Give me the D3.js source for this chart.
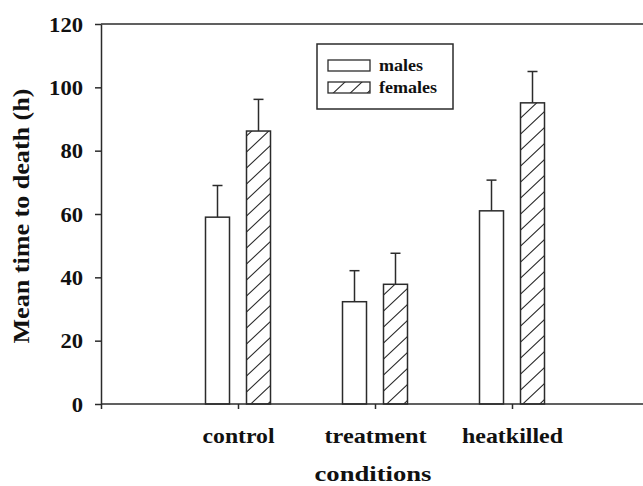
<!DOCTYPE html>
<html>
<head>
<meta charset="utf-8">
<script src="https://cdn.jsdelivr.net/npm/d3@7"></script>
<style>
  body { margin: 0; background: #fff; }
  svg { display: block; }
</style>
</head>
<body>
<svg id="chart" width="643" height="486"></svg>
<script>
const categories = ["control", "treatment", "heatkilled"]
const series = ["males", "females"]
const males = [59, 32.3, 61]
const malesErr = [10, 9.8, 9.7]
const females = [86.2, 37.8, 95.1]
const femalesErr = [10, 9.8, 9.9]
const yTicks = [0, 20, 40, 60, 80, 100, 120]

const margin = {top: 24, left: 101, bottom: 82}
const width = 643, height = 486
const ink = "#2b2b2b"

const serif = sel => sel
    .style("font-family", '"Liberation Serif"')
    .style("font-weight", "bold")
    .attr("fill", "#111")

const svg = d3.select("#chart")

// hatch: lines rising left to right, 16px apart vertically
const defs = svg.append("defs")
const pat = defs.append("pattern")
    .attr("id", "hatch")
    .attr("patternUnits", "userSpaceOnUse")
    .attr("width", 17).attr("height", 16)
pat.append("path")
    .attr("d", "M-8.5,8 L8.5,-8 M0,16 L17,0 M8.5,24 L25.5,8")
    .attr("stroke", ink).attr("stroke-width", 1.1)

// positions 0..4, categories sit at 1,2,3
const x = d3.scaleLinear().domain([0, 4]).range([margin.left, 649])
const y = d3.scaleLinear().domain([0, 120]).range([height - margin.bottom, margin.top])
const offset = d3.scaleOrdinal().domain(series).range([-20.5, 20.5])
const barW = 24

const data = categories.flatMap((c, i) => [
    {cat: c, pos: i + 1, s: "males", v: males[i], e: malesErr[i]},
    {cat: c, pos: i + 1, s: "females", v: females[i], e: femalesErr[i]}
])

// top frame line
svg.append("line")
    .attr("x1", x(0)).attr("x2", width)
    .attr("y1", y(120)).attr("y2", y(120))
    .attr("stroke", ink).attr("stroke-width", 1.5)

// error bars (drawn first so bars cover the base)
const eb = svg.append("g").attr("stroke", ink).attr("stroke-width", 1.5)
eb.selectAll("line.v").data(data).join("line")
    .attr("class", "v")
    .attr("x1", d => x(d.pos) + offset(d.s)).attr("x2", d => x(d.pos) + offset(d.s))
    .attr("y1", d => y(d.v)).attr("y2", d => y(d.v + d.e))
eb.selectAll("line.c").data(data).join("line")
    .attr("class", "c")
    .attr("x1", d => x(d.pos) + offset(d.s) - 5).attr("x2", d => x(d.pos) + offset(d.s) + 5)
    .attr("y1", d => y(d.v + d.e)).attr("y2", d => y(d.v + d.e))

svg.append("g").selectAll("rect").data(data).join("rect")
    .attr("x", d => x(d.pos) + offset(d.s) - barW / 2)
    .attr("width", barW)
    .attr("y", d => y(d.v))
    .attr("height", d => y(0) - y(d.v))
    .attr("fill", d => d.s === "females" ? "url(#hatch)" : "#fff")
    .attr("stroke", ink).attr("stroke-width", 1.5)

// y axis
svg.append("g")
    .attr("transform", `translate(${margin.left},0)`)
    .call(d3.axisLeft(y).tickValues(yTicks).tickSize(6).tickPadding(12).tickSizeOuter(0))
    .call(g => g.selectAll("path, line").attr("stroke", ink).attr("stroke-width", 1.5))
    .call(g => g.selectAll("text").call(serif).attr("font-size", 22)
        .attr("textLength", d => String(d).length * 11.3).attr("lengthAdjust", "spacingAndGlyphs"))

// x axis
svg.append("g")
    .attr("transform", `translate(0,${y(0)})`)
    .call(d3.axisBottom(x).tickValues([0, 1, 2, 3]).tickSize(5).tickSizeOuter(0)
        .tickFormat(d => d === 0 ? "" : categories[d - 1]).tickPadding(0))
    .call(g => g.select(".domain").attr("d", `M${x(0)},0H${width}`))
    .call(g => g.selectAll("path, line").attr("stroke", ink).attr("stroke-width", 1.5))
    .call(g => g.selectAll("text").call(serif).attr("font-size", 22).attr("dy", null).attr("y", 39)
        .attr("textLength", d => [0, 72, 102, 101][d]).attr("lengthAdjust", "spacingAndGlyphs"))

// axis titles
svg.append("text")
    .attr("transform", `translate(29,${(y(0) + y(120)) / 2 + 2}) rotate(-90)`)
    .attr("text-anchor", "middle")
    .attr("font-size", 23)
    .attr("textLength", 255).attr("lengthAdjust", "spacingAndGlyphs")
    .call(serif)
    .text("Mean time to death (h)")

svg.append("text")
    .attr("x", 373).attr("y", 481)
    .attr("text-anchor", "middle")
    .attr("font-size", 22)
    .attr("textLength", 117).attr("lengthAdjust", "spacingAndGlyphs")
    .call(serif)
    .text("conditions")

// legend
const lg = svg.append("g").attr("transform", "translate(317,44)")
lg.append("rect").attr("width", 136).attr("height", 65)
    .attr("fill", "#fff").attr("stroke", ink).attr("stroke-width", 1.5)
const items = lg.selectAll("g").data(series).join("g")
    .attr("transform", (d, i) => `translate(11,${16 + i * 22})`)
items.append("rect").attr("width", 42).attr("height", 11)
    .attr("fill", d => d === "females" ? "url(#hatch)" : "#fff")
    .attr("stroke", ink).attr("stroke-width", 1.3)
items.append("text").attr("x", 51).attr("y", 11)
    .attr("font-size", 16)
    .attr("textLength", d => d === "males" ? 44 : 58).attr("lengthAdjust", "spacingAndGlyphs")
    .call(serif)
    .text(d => d)
</script>
</body>
</html>
